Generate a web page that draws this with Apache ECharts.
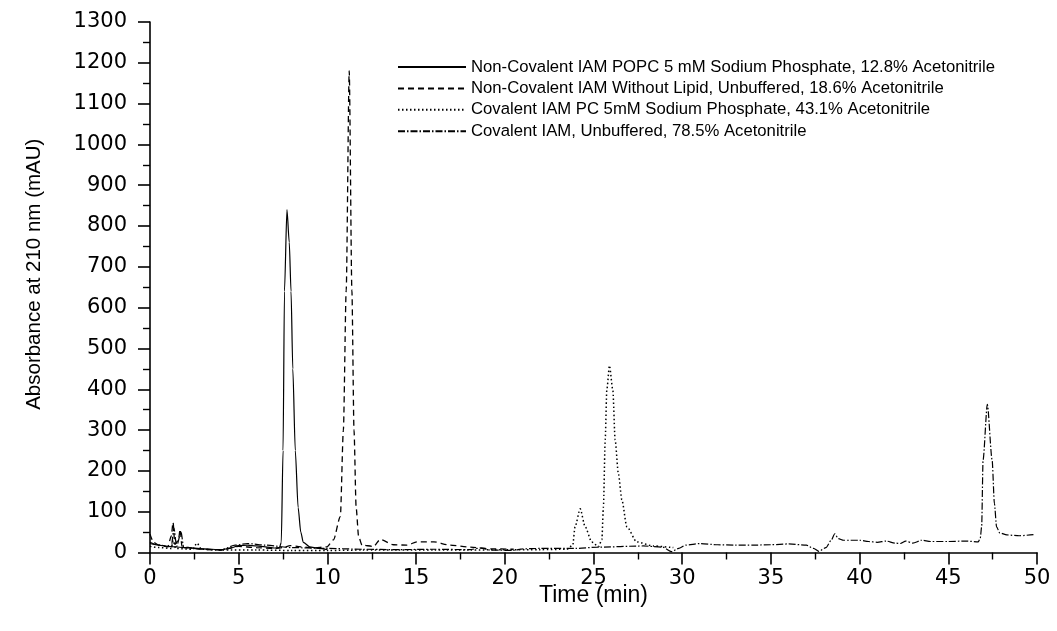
<!DOCTYPE html>
<html><head><meta charset="utf-8">
<script src="https://cdn.jsdelivr.net/npm/echarts@6/dist/echarts.min.js"></script>
<style>html,body{margin:0;padding:0;background:#fff}#c{width:1057px;height:631px}</style>
</head><body><div id="c"></div>
<script>
// Series names
var seriesNames = [
  'Non-Covalent IAM POPC 5 mM Sodium Phosphate, 12.8% Acetonitrile',
  'Non-Covalent IAM Without Lipid, Unbuffered, 18.6% Acetonitrile',
  'Covalent IAM PC 5mM Sodium Phosphate, 43.1% Acetonitrile',
  'Covalent IAM, Unbuffered, 78.5% Acetonitrile'
];
// Solid: Non-Covalent IAM POPC
var s1Time = [0,0.5,1,2,3,4,4.5,5,5.5,6,6.5,7,7.3,7.4,7.5,7.58,7.72,7.85,7.95,8.05,8.19,8.35,8.5,8.64,9.0,9.5,10.0];
var s1Abs  = [22,18,15,12,9,7,10,17,18,16,14,11,12,25,250,640,840,760,640,450,250,110,50,25,14,10,7];
// Dashed: Non-Covalent IAM Without Lipid
var s2Time = [0,0.2,0.5,1.0,1.2,1.3,1.4,1.6,1.7,1.8,2.5,3,4,5,6,7,7.5,7.9,8.5,9.2,9.98,10.34,10.73,10.9,11.06,11.23,11.38,11.5,11.62,11.76,11.95,12.6,12.98,13.73,14.48,15.05,16.0,16.9,18.05,19.2,20.5];
var s2Abs  = [45,25,18,14,40,74,20,30,57,15,10,8,6,15,12,10,12,17,14,11,14,31,88,300,643,1180,643,300,110,39,18,15,32,19,18,26,26,18,13,9,8];
// Dotted: Covalent IAM PC
var s3Time = [0,0.5,1.2,1.3,1.45,2.4,2.65,2.9,4,6,8,10,12,14,16,18,20,22,23.5,23.83,23.96,24.25,24.53,24.9,25.28,25.47,25.56,25.66,25.75,25.9,26.09,26.22,26.4,26.6,26.88,27.44,28.38,29.5];
var s3Abs  = [15,12,10,30,10,8,23,8,6,6,5,5,6,6,6,6,7,7,8,18,63,107,63,26,14,31,112,276,398,458,398,276,194,129,63,26,16,12];
// Dash-dot: Covalent IAM Unbuffered
var s4Time = [0,0.5,1.2,1.35,1.5,1.75,1.9,3,4,4.8,5.5,6.5,8,10,12,14,16,18,18.6,19.2,20.5,21,22,24,25.2,27.8,28.9,29.4,29.8,30.2,31,32,33,34,35,36,37,37.4,37.7,38.1,38.4,38.6,38.8,39.1,39.5,40,40.5,41,41.5,42,42.3,42.6,43,43.5,44,45,46,46.69,46.8,46.88,46.96,47.2,47.47,47.6,47.72,47.9,48.3,49,49.8];
var s4Abs  = [25,18,14,60,15,50,12,8,6,18,22,18,12,10,8,7,8,7,11,6,5,9,10,10,13,16,13,2,10,18,22,19,18,18,19,21,18,10,3,12,30,46,34,30,30,30,27,25,28,23,22,28,23,30,27,27,28,26,35,63,227,363,227,120,63,48,43,41,44];

var lineTypes = ['solid', [6,4], [1.5,2.5], [7,2,1.5,2]];
var lineWidths = [1.2, 1.3, 1.5, 1.2];
var times = [s1Time, s2Time, s3Time, s4Time];
var vals = [s1Abs, s2Abs, s3Abs, s4Abs];

function zip(a, b) { return a.map(function (t, i) { return [t, b[i]]; }); }

var series = seriesNames.map(function (name, i) {
  return {
    name: name, type: 'line', data: zip(times[i], vals[i]),
    symbol: 'none', smooth: 0.25, smoothMonotone: 'x',
    lineStyle: { color: '#000', width: lineWidths[i], type: lineTypes[i] },
    itemStyle: { color: '#000' }, z: 3 + i
  };
});

var tickFont = { fontFamily: 'DejaVu Sans', fontSize: 21, color: '#000' };
var chart = echarts.init(document.getElementById('c'), null, { renderer: 'canvas' });
chart.setOption({
  animation: false,
  backgroundColor: '#fff',
  grid: { left: 150, right: 20, top: 22, bottom: 78.5, containLabel: false },
  legend: {
    orient: 'vertical', left: 392, top: 53.5, itemWidth: 68, itemHeight: 14, itemGap: 4.4,
    itemStyle: { color: 'transparent', borderWidth: 0, opacity: 0 },
    textStyle: { fontFamily: 'Liberation Sans', fontSize: 16.7, color: '#000' },
    data: seriesNames
  },
  xAxis: {
    type: 'value', min: 0, max: 50, interval: 5,
    name: 'Time (min)', nameLocation: 'middle', nameGap: 32, nameMoveOverlap: false,
    nameTextStyle: { fontFamily: 'Liberation Sans', fontSize: 23, color: '#000' },
    axisLine: { show: true, onZero: false, lineStyle: { color: '#000', width: 1.6 } },
    axisTick: { show: true, inside: false, length: 12, lineStyle: { color: '#000', width: 1.6 } },
    minorTick: { show: true, splitNumber: 2, length: 7, lineStyle: { color: '#000', width: 1.4 } },
    axisLabel: Object.assign({ margin: 16 }, tickFont),
    splitLine: { show: false }
  },
  yAxis: {
    type: 'value', min: 0, max: 1300, interval: 100,
    name: 'Absorbance at 210 nm (mAU)', nameLocation: 'middle', nameGap: 105, nameRotate: 90, nameMoveOverlap: false,
    nameTextStyle: { fontFamily: 'Liberation Sans', fontSize: 20.5, color: '#000', padding: [0, 0, 0, 26] },
    axisLine: { show: true, onZero: false, lineStyle: { color: '#000', width: 1.6 } },
    axisTick: { show: true, inside: false, length: 12, lineStyle: { color: '#000', width: 1.6 } },
    minorTick: { show: true, splitNumber: 2, length: 7, lineStyle: { color: '#000', width: 1.4 } },
    axisLabel: Object.assign({ margin: 23, formatter: function (v) { return String(v); } }, tickFont),
    splitLine: { show: false }
  },
  series: series
});
</script>
</body></html>
